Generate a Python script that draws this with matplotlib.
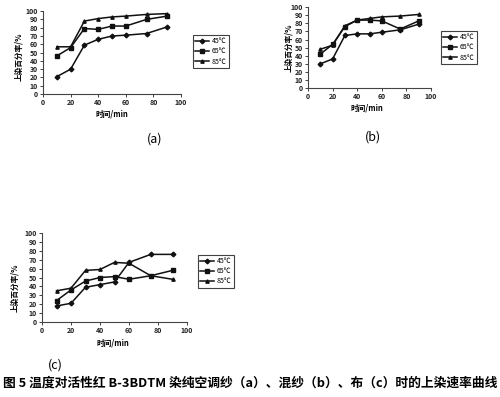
import matplotlib
matplotlib.use("Agg")
import matplotlib.pyplot as plt

plt.rcParams['font.family'] = ['Noto Sans CJK SC', 'DejaVu Sans']

times = [10, 20, 30, 40, 50, 60, 75, 90]
legend_labels = ["45℃", "65℃", "85℃"]

a45 = [21, 30, 59, 66, 70, 71, 73, 81]
a65 = [46, 56, 79, 78, 82, 82, 90, 94]
a85 = [57, 57, 88, 91, 93, 94, 96, 97]

b45 = [30, 36, 65, 67, 67, 69, 72, 79]
b65 = [42, 54, 76, 84, 84, 83, 73, 83]
b85 = [48, 53, 77, 84, 86, 88, 89, 91]

c45 = [18, 21, 39, 42, 45, 67, 76, 76]
c65 = [24, 36, 46, 50, 51, 48, 52, 58]
c85 = [35, 38, 58, 59, 67, 66, 52, 48]

panel_labels = ["(a)", "(b)", "(c)"]
xlabel = "时间/min"
ylabel = "上染百分率/%"
caption = "图 5 温度对活性红 B-3BDTM 染纯空调纱（a）、混纱（b）、布（c）时的上染速率曲线"

fig = plt.figure(figsize=(5.0, 3.97), dpi=100)

panels = [
    dict(rect=[0.086, 0.763, 0.276, 0.209], data=[a45, a65, a85],
         leg=(0.386, 0.912), xl=(0.224, 0.712), yl=(0.038, 0.856), pl=(0.31, 0.650)),
    dict(rect=[0.616, 0.778, 0.246, 0.204], data=[b45, b65, b85],
         leg=(0.882, 0.922), xl=(0.734, 0.727), yl=(0.578, 0.879), pl=(0.746, 0.655)),
    dict(rect=[0.084, 0.189, 0.290, 0.224], data=[c45, c65, c85],
         leg=(0.396, 0.358), xl=(0.226, 0.136), yl=(0.030, 0.275), pl=(0.110, 0.080)),
]
markers = ['D', 's', '^']

for i, p in enumerate(panels):
    ax = fig.add_axes(p['rect'])
    for series, mk, lab in zip(p['data'], markers, legend_labels):
        ax.plot(times, series, color='#111111', lw=1.1, marker=mk, ms=2.4, label=lab)
    ax.set_xlim(0, 100)
    ax.set_ylim(0, 100)
    ax.set_xticks(range(0, 101, 20))
    ax.set_yticks(range(0, 101, 10))
    for s in ['top', 'right']:
        ax.spines[s].set_visible(False)
    for s in ['left', 'bottom']:
        ax.spines[s].set_color('#444444')
        ax.spines[s].set_linewidth(0.8)
    ax.tick_params(labelsize=5, length=2, width=0.6, pad=1.5, colors='#222222')
    for t in ax.get_xticklabels() + ax.get_yticklabels():
        t.set_fontweight('bold')
    leg = ax.legend(loc='upper left', bbox_to_anchor=p['leg'], bbox_transform=fig.transFigure,
                    fontsize=5, frameon=True, fancybox=False, edgecolor='#111111',
                    handlelength=2.0, handletextpad=0.3, borderpad=0.35, labelspacing=0.3,
                    borderaxespad=0)
    leg.get_frame().set_linewidth(0.8)
    fig.text(p['xl'][0], p['xl'][1], xlabel, fontsize=5.5, fontweight='bold',
             ha='center', va='center')
    fig.text(p['yl'][0], p['yl'][1], ylabel, fontsize=5.5, fontweight='bold',
             ha='center', va='center', rotation=90)
    fig.text(p['pl'][0], p['pl'][1], panel_labels[i], fontsize=9,
             ha='center', va='center')

fig.text(0.5, 0.035, caption, fontsize=9.2, fontweight='bold', ha='center', va='center')

fig.savefig("out.png", dpi=100)
